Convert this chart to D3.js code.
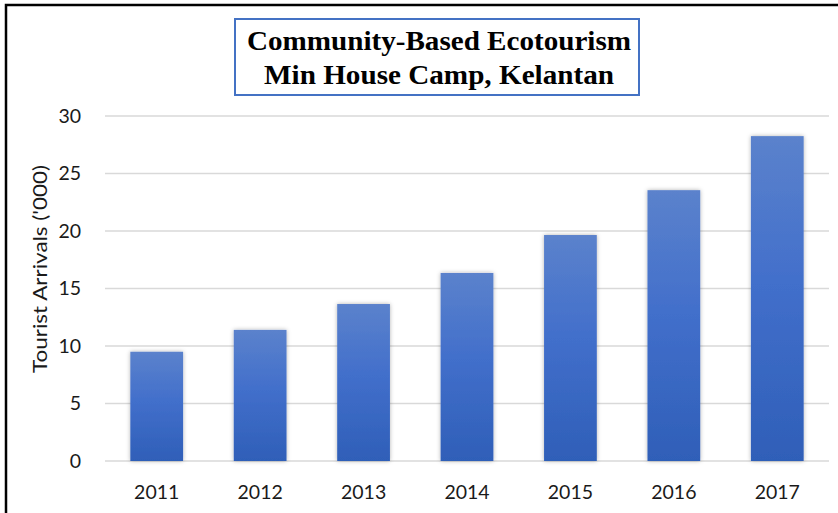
<!DOCTYPE html>
<html>
<head>
<meta charset="utf-8">
<script src="https://cdn.jsdelivr.net/npm/d3@7"></script>
<style>
  body { margin: 0; background: #fff; }
  .tick text { font-family: Lato, 'Open Sans', sans-serif; fill: #1a1a1a; }
  .grid { stroke: #d9d9d9; stroke-width: 1.5; }
</style>
</head>
<body>
<div id="chart"></div>
<script>
// Chart data
let years = ['2011', '2012', '2013', '2014', '2015', '2016', '2017'];
let arrivals = [9.5, 11.4, 13.65, 16.35, 19.65, 23.55, 28.25];
let yTicks = [0, 5, 10, 15, 20, 25, 30];
let titleLines = ['Community-Based Ecotourism', 'Min House Camp, Kelantan'];
let yTitle = "Tourist Arrivals ('000)";

let W = 838, H = 513;
let margin = {top: 116, right: 9, bottom: 52, left: 105},
    width = W - margin.left - margin.right,
    height = H - margin.top - margin.bottom;

let svg = d3.select('#chart')
    .append('svg')
        .attr('width', W)
        .attr('height', H);

// Gradient fill for the bars
let defs = svg.append('defs');
let grad = defs.append('linearGradient')
    .attr('id', 'barGrad')
    .attr('x1', 0).attr('y1', 0).attr('x2', 0).attr('y2', 1);
grad.append('stop').attr('offset', '0%').attr('stop-color', '#5b82cc');
grad.append('stop').attr('offset', '45%').attr('stop-color', '#426fcb');
grad.append('stop').attr('offset', '100%').attr('stop-color', '#2f5fb8');
let shadow = defs.append('filter')
    .attr('id', 'shadow')
    .attr('x', '-20%').attr('y', '-5%').attr('width', '140%').attr('height', '110%');
shadow.append('feDropShadow')
    .attr('dx', 0).attr('dy', 0)
    .attr('stdDeviation', 2)
    .attr('flood-color', '#000')
    .attr('flood-opacity', 0.3);

// Outer frame (top and left edges only)
svg.append('path')
    .attr('d', `M6,${H} V5 H${W}`)
    .attr('fill', 'none')
    .attr('stroke', '#000')
    .attr('stroke-width', 2.5);

let g = svg.append('g')
    .attr('transform', `translate(${margin.left},${margin.top})`);

let scX = d3.scaleBand().domain(years).range([0, width])
    .paddingInner(0.49)
    .paddingOuter(0.245);
let scY = d3.scaleLinear().domain([0, 30]).range([height, 0]);

// Horizontal gridlines
g.selectAll('line.grid')
    .data(yTicks)
    .enter()
    .append('line')
        .attr('class', 'grid')
        .attr('x1', 0)
        .attr('x2', width)
        .attr('y1', d => scY(d))
        .attr('y2', d => scY(d));

// Axes
let yAxis = d3.axisLeft(scY).tickValues(yTicks).tickSize(0).tickPadding(24);
g.append('g')
    .attr('class', 'axis y-axis')
    .call(yAxis)
    .call(s => s.select('.domain').remove())
    .selectAll('text')
        .attr('font-size', 19.5);

let xAxis = d3.axisBottom(scX).tickSize(0).tickPadding(24);
g.append('g')
    .attr('class', 'axis x-axis')
    .attr('transform', `translate(0,${height})`)
    .call(xAxis)
    .call(s => s.select('.domain').remove())
    .selectAll('text')
        .attr('font-size', 19.5);

// Bars
g.selectAll('rect.bar')
    .data(years)
    .enter()
    .append('rect')
        .attr('class', 'bar')
        .attr('x', d => scX(d))
        .attr('width', scX.bandwidth())
        .attr('y', (d, i) => scY(arrivals[i]))
        .attr('height', (d, i) => height - scY(arrivals[i]))
        .attr('fill', 'url(#barGrad)')
        .attr('filter', 'url(#shadow)');

// Y axis title
svg.append('text')
    .attr('transform', 'rotate(-90)')
    .attr('x', -269)
    .attr('y', 47)
    .attr('text-anchor', 'middle')
    .attr('font-family', "Lato, 'Open Sans', sans-serif")
    .attr('font-size', 20)
    .attr('fill', '#1a1a1a')
    .attr('textLength', 208)
    .attr('lengthAdjust', 'spacingAndGlyphs')
    .text(yTitle);

// Title box
svg.append('rect')
    .attr('x', 235)
    .attr('y', 19)
    .attr('width', 404)
    .attr('height', 76)
    .attr('fill', '#fff')
    .attr('stroke', '#4472c4')
    .attr('stroke-width', 2);

let titleWidths = [384, 350];
svg.selectAll('text.title')
    .data(titleLines)
    .enter()
    .append('text')
        .attr('class', 'title')
        .attr('x', 439)
        .attr('y', (d, i) => 50 + i * 34)
        .attr('text-anchor', 'middle')
        .attr('font-family', "'Liberation Serif', 'Times New Roman', serif")
        .attr('font-weight', 'bold')
        .attr('font-size', 27)
        .attr('fill', '#000')
        .attr('textLength', (d, i) => titleWidths[i])
        .attr('lengthAdjust', 'spacingAndGlyphs')
        .text(d => d);
</script>
</body>
</html>
